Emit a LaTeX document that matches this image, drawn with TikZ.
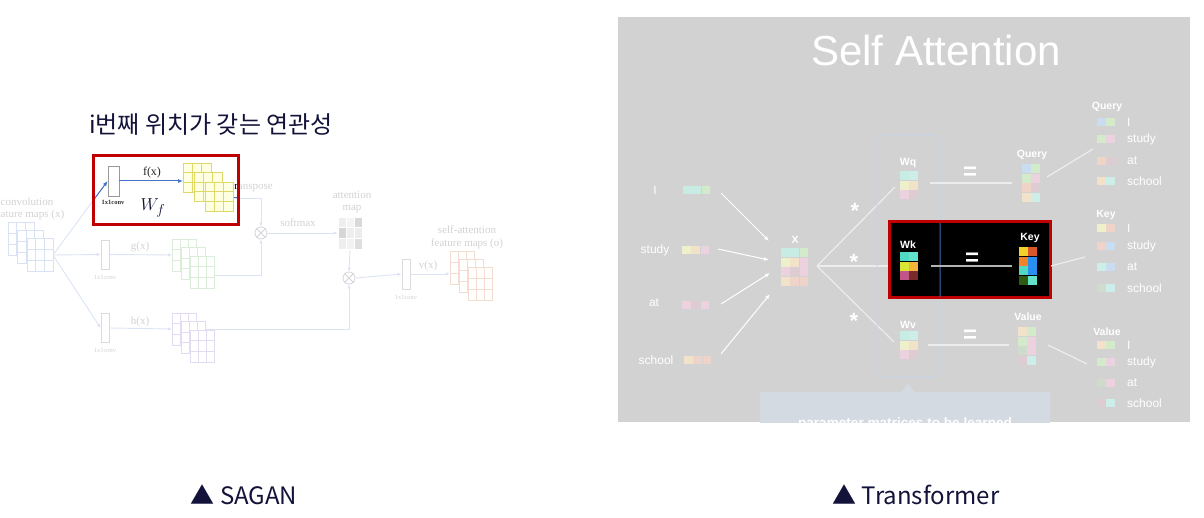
\documentclass[tikz,border=0pt]{standalone}
\usepackage{fontspec}
\setmainfont{Liberation Serif}
\newfontfamily\hfont{Liberation Sans}
\newfontfamily\krfont{Noto Sans CJK KR}
\usepackage{xcolor}
\definecolor{navy}{HTML}{12123A}
\definecolor{hlred}{HTML}{C00000}
\definecolor{fblue}{HTML}{4472C4}
\definecolor{sagLine}{HTML}{DCE3F4}
\definecolor{sagText}{HTML}{D2D2D2}
\definecolor{sagBox}{HTML}{DADADA}
\definecolor{sagCirc}{HTML}{D4D4DA}
\definecolor{xEdge}{HTML}{D9E1F5}
\definecolor{gEdge}{HTML}{D9EDD9}
\definecolor{hEdge}{HTML}{E2DBF2}
\definecolor{oEdge}{HTML}{F5DCD0}
\definecolor{fEdge}{HTML}{E0D868}
\definecolor{fFill}{HTML}{FFFFE2}
\definecolor{panelgray}{HTML}{D2D2D2}
\definecolor{callout}{HTML}{D4DAE2}
\definecolor{wframe}{HTML}{C8D5E6}
\definecolor{tline}{HTML}{EDEDED}
% faded token colours
\definecolor{pCyan}{HTML}{C6ECE4}
\definecolor{pAqua}{HTML}{CDEEE8}
\definecolor{pGreen}{HTML}{D3EBCB}
\definecolor{pYellow}{HTML}{EEF0CC}
\definecolor{pPeach}{HTML}{F2E2CA}
\definecolor{pPink}{HTML}{ECD2DE}
\definecolor{pMauve}{HTML}{DDCCD2}
\definecolor{pSalmon}{HTML}{EFD3C9}
\definecolor{pBlue}{HTML}{CADDF0}
\definecolor{pSage}{HTML}{CFDCCB}
% vivid colours (highlighted key)
\definecolor{vTeal}{HTML}{4FD9C4}
\definecolor{vAqua}{HTML}{62E3C9}
\definecolor{vLime}{HTML}{D9E634}
\definecolor{vAmber}{HTML}{F5B53A}
\definecolor{vMagenta}{HTML}{C25588}
\definecolor{vMaroon}{HTML}{7A2A2A}
\definecolor{vYellow}{HTML}{F5D02A}
\definecolor{vRust}{HTML}{D9572A}
\definecolor{vOrange}{HTML}{F0822A}
\definecolor{vBlue}{HTML}{2A90F0}
\definecolor{vForest}{HTML}{2E5A12}
\definecolor{vFrame}{HTML}{3A6EA8}
\usetikzlibrary{arrows.meta, positioning, calc}

% stack of three feature maps: x, y, w, h, dx, dy, edge, fill
\newcommand{\fmaps}[8]{%
  \foreach \k in {0,1,2}{
    \pgfmathsetmacro{\fx}{#1+\k*#5}
    \pgfmathsetmacro{\fy}{#2+\k*#6}
    \filldraw[draw=#7, fill=#8, line width=0.8] (\fx,\fy) rectangle ++(#3,#4);
    \draw[#7, line width=0.8] (\fx+#3/3,\fy) -- ++(0,#4) (\fx+2*#3/3,\fy) -- ++(0,#4)
      (\fx,\fy+#4/3) -- ++(#3,0) (\fx,\fy+2*#4/3) -- ++(#3,0);
  }}
% coloured matrix: x, y, rows
\newcommand{\tmat}[3]{%
  \foreach \mrow [count=\mr from 0] in {#3}{
    \foreach \mcol [count=\mc from 0] in \mrow
      \fill[\mcol] ({#1+\mc*9.4},{#2+\mr*9.7}) rectangle ++(8.6,8.9);
  }}
% coloured row vector: x, y, colours
\newcommand{\tvec}[3]{%
  \foreach \mcol [count=\mc from 0] in {#3}
    \fill[\mcol] ({#1+\mc*9.4},#2) rectangle ++(8.6,8);}

\begin{document}
\begin{tikzpicture}[x=1pt, y=-1pt,
  sagtxt/.style={font=\fontsize{11}{12}\selectfont, text=sagText, inner sep=0},
  convlbl/.style={font=\fontsize{6.5}{7}\selectfont, text=sagText, inner sep=0},
  convbox/.style={draw=sagBox, fill=white, line width=0.8, minimum width=8, minimum height=29, inner sep=0},
  sagpath/.style={draw=sagLine, line width=0.9},
  sagarrow/.style={sagpath, -{Latex[length=4,width=3.5]}},
  bluearrow/.style={draw=fblue, line width=1, -{Latex[length=5,width=4]}},
  otimes/.style={circle, draw=sagCirc, line width=0.8, minimum size=12, inner sep=0},
  tok/.style={font=\hfont\fontsize{12}{13}\selectfont, text=white, inner sep=0},
  mlbl/.style={font=\hfont\bfseries\fontsize{10.5}{12}\selectfont, text=white, inner sep=0},
  eqsign/.style={font=\hfont\bfseries\fontsize{24}{24}\selectfont, text=white, inner sep=0, anchor=base},
  starsign/.style={font=\hfont\bfseries\fontsize{22}{22}\selectfont, text=white, inner sep=0, anchor=base},
  wline/.style={draw=tline, line width=1.2},
  tarrow/.style={draw=white, line width=1, -{Latex[length=5,width=4]}},
  caption/.style={font=\krfont\fontsize{24}{26}\selectfont, text=navy, inner sep=0}]

\useasboundingbox (0,0) rectangle (1204,518);

% === SAGAN (left) ===
\node[font=\krfont\fontsize{24}{26}\selectfont, text=navy, anchor=west, inner sep=0] (ktitle) at (89,125) {i번째 위치가 갖는 연관성};

\node[sagtxt, anchor=west] (convA) at (0.5,202) {convolution};
\node[sagtxt, anchor=west] (convB) at (0.5,215) {ature maps (x)};

% conv boxes and circles
\node[convbox, minimum width=11, minimum height=30, draw=gray] (fconv) at (113.5,181) {};
\node[convbox] (gconv) at (105,254.5) {};
\node[convbox] (hconv) at (105,328) {};
\node[convbox, minimum height=30] (vconv) at (406,274) {};
\node[otimes] (ot1) at (261,233) {};
\node[otimes] (ot2) at (349,278) {};
\draw[sagCirc, line width=0.8] (ot1.north west) -- (ot1.south east) (ot1.north east) -- (ot1.south west);
\draw[sagCirc, line width=0.8] (ot2.north west) -- (ot2.south east) (ot2.north east) -- (ot2.south west);
\node[draw=sagBox, line width=0.6, minimum width=24, minimum height=32, inner sep=0] (amap) at (350,233) {};

\coordinate (xfan) at (53,255);
\coordinate (fin) at (183,181);
\coordinate (fout) at (233,198);
\coordinate (gin) at (172,255);
\coordinate (gout) at (214,275);
\coordinate (hin) at (172,329);
\coordinate (hout) at (205,329);
\coordinate (oin) at (450,274);

% connectors
\draw[sagarrow] (xfan) -- (fconv.west);
\draw[sagarrow] (xfan) -- (gconv.west);
\draw[sagarrow] (xfan) -- (hconv.west);
\draw[sagarrow] (gconv.east) -- (gin);
\draw[sagarrow] (hconv.east) -- (hin);
\draw[sagarrow] (fout) -| (ot1.north);
\draw[sagarrow] (gout) -| (ot1.south);
\draw[sagarrow] (ot1.east) -- (amap.west);
\draw[sagarrow] (amap.south) -- (ot2.north);
\draw[sagarrow] (hout) -| (ot2.south);
\draw[sagarrow] (ot2.east) -- (vconv.west);
\draw[sagarrow] (vconv.east) -- (oin);

% attention map cells
\foreach \ac [count=\ai from 0] in {EEEEEE,F4F4F4,D9D9D9,D6D6D6,EEEEEE,ECECEC,EEEEEE,F2F2F2,DEDEDE}{
  \pgfmathtruncatemacro{\acol}{mod(\ai,3)}
  \pgfmathtruncatemacro{\arow}{div(\ai,3)}
  \definecolor{acell}{HTML}{\ac}
  \filldraw[fill=acell, draw=white, line width=0.5] ({338+\acol*8},{217+\arow*32/3}) rectangle ++(8,32/3);
}

% feature maps
\fmaps{8}{222}{26}{33}{9.5}{8}{xEdge}{white}
\fmaps{172}{239}{24}{32}{9}{8.5}{gEdge}{white}
\fmaps{172}{313}{24}{32}{9}{8.5}{hEdge}{white}
\fmaps{450}{251}{24}{33}{9}{8}{oEdge}{white}

% labels
\node[sagtxt] (glbl) at (140,247) {g(x)};
\node[sagtxt] (hlbl) at (140,322) {h(x)};
\node[sagtxt] (vlbl) at (428,266) {v(x)};
\node[sagtxt] (smax) at (298,223) {softmax};
\node[sagtxt] (att1) at (352,195) {attention};
\node[sagtxt] (att2) at (352,209) {map};
\node[sagtxt] (sa1) at (467,230) {self-attention};
\node[sagtxt] (sa2) at (467,244) {feature maps (o)};
\node[convlbl] (gcl) at (105,277) {1x1conv};
\node[convlbl] (hcl) at (105,350) {1x1conv};
\node[convlbl] (vcl) at (406,297) {1x1conv};
\node[sagtxt, anchor=west] (tp) at (231,188) {transpose};

% highlighted f(x) branch
\begin{scope}
\clip (93,155) rectangle (238,225);
\draw[bluearrow] (xfan) -- (fconv.west);
\draw[fblue, line width=1] (fout) -| (ot1.north);
\node[sagtxt, anchor=west, text=black] (tpdark) at (231,188) {transpose};
\end{scope}
\node[convbox, minimum width=11, minimum height=30, draw=gray!80] (fconvtop) at (113.5,181) {};
\draw[bluearrow] (fconvtop.east) -- (fin);
\fmaps{183}{163}{28}{29}{11}{9.5}{fEdge}{fFill}
\node[sagtxt, text=black!85, font=\fontsize{12}{13}\selectfont] (flbl) at (152,173) {f(x)};
\node[convlbl, text=black!80, font=\fontsize{6.5}{7}\selectfont\bfseries] (fcl) at (113,202) {1x1conv};
\node[text=navy, inner sep=0, font=\fontsize{19}{20}\selectfont] (wf) at (153,208) {$W_f$};
\draw[hlred, line width=3] (93,156) rectangle (238,225);

% === Transformer (right) ===
\fill[panelgray] (618,17) rectangle (1190,422);
\begin{scope}
\clip (618,17) rectangle (1190,422);
\node[font=\hfont\fontsize{42}{44}\selectfont, text=white, inner sep=0] (satitle) at (936,50) {Self Attention};

% input tokens
\node[tok] (tI) at (655,190) {I};
\node[tok] (tStudy) at (655,250) {study};
\node[tok] (tAt) at (654,303) {at};
\node[tok] (tSchool) at (656,360) {school};
\tvec{683}{186}{pCyan,pCyan,pGreen}
\tvec{682}{246}{pYellow,pPeach,pPink}
\tvec{682}{301}{pPink,pMauve,pPink}
\tvec{684}{356}{pPeach,pSalmon,pSalmon}
\coordinate (vI) at (721,193);
\coordinate (vStudy) at (718,249);
\coordinate (vAt) at (721,304);
\coordinate (vSchool) at (721,354);
\coordinate (xin1) at (769,241);
\coordinate (xin2) at (769,260);
\coordinate (xin3) at (770,273);
\coordinate (xin4) at (770,294);
\draw[tarrow] (vI) -- (xin1);
\draw[tarrow] (vStudy) -- (xin2);
\draw[tarrow] (vAt) -- (xin3);
\draw[tarrow] (vSchool) -- (xin4);

% X matrix
\node[mlbl] (xlbl) at (795,240) {X};
\tmat{781}{248}{{pCyan,pCyan,pGreen},{pYellow,pPeach,pPink},{pPink,pMauve,pPink},{pPeach,pSalmon,pSalmon}}
\coordinate (xout) at (817,266);
\coordinate (wqin) at (895,187);
\coordinate (wkin) at (890,266);
\coordinate (wvin) at (894,342);
\draw[wline] (xout) -- (wqin);
\draw[wline] (xout) -- (wkin);
\draw[wline] (xout) -- (wvin);
\node[starsign] (st1) at (855,219) {*};
\node[starsign] (st2) at (854,270) {*};
\node[starsign] (st3) at (854,329) {*};

% parameter frame and callout
\draw[wframe, line width=1, rounded corners=8] (877,135) rectangle (940,377);
\fill[callout] (760,392) rectangle (1050,440);
\fill[callout] (901,392.5) -- (908,383.5) -- (915,392.5) -- cycle;
\node[font=\hfont\bfseries\fontsize{13.6}{15}\selectfont, text=white, anchor=base, inner sep=0] (callt) at (905,427) {parameter matrices to be learned};

% query row
\node[mlbl] (wqlbl) at (908,163) {Wq};
\tmat{900}{171}{{pCyan,pAqua},{pYellow,pPeach},{pPink,pMauve}}
\node[eqsign] (eq1) at (970,180) {=};
\coordinate (wqout) at (930,183);
\coordinate (qin) at (1012,183);
\draw[wline] (wqout) -- (qin);
\node[mlbl] (qlbl) at (1032,155) {Query};
\tmat{1022}{164}{{pBlue,pGreen},{pGreen,pPink},{pSalmon,pMauve},{pPeach,pAqua}}
\coordinate (qout) at (1047,177);
\coordinate (qlist) at (1093,149);
\draw[wline] (qout) -- (qlist);

% value row
\node[mlbl] (wvlbl) at (908,325) {Wv};
\tmat{900}{331}{{pCyan,pAqua},{pYellow,pPeach},{pPink,pMauve}}
\node[eqsign] (eq3) at (970,342) {=};
\coordinate (wvout) at (928,345);
\coordinate (vin) at (1009,345);
\draw[wline] (wvout) -- (vin);
\node[mlbl] (vallbl) at (1028,317) {Value};
\tmat{1018}{327}{{pPeach,pGreen},{pGreen,pPink},{pSage,pPink},{pMauve,pAqua}}
\coordinate (vout) at (1048,345);
\coordinate (vlist) at (1087,364);
\draw[wline] (vout) -- (vlist);

% key row (highlighted)
\filldraw[fill=black, draw=hlred, line width=3] (889,222) rectangle (1050,298);
\begin{scope}
\clip (890.5,223.5) rectangle (1048.5,296.5);
\draw[vFrame, line width=1, rounded corners=8] (877,135) rectangle (940,377);
\end{scope}
\node[mlbl] (wklbl) at (908,245) {Wk};
\tmat{900}{252}{{vTeal,vAqua},{vLime,vAmber},{vMagenta,vMaroon}}
\node[eqsign] (eq2) at (972,266) {=};
\coordinate (wkout) at (931,266);
\coordinate (kin) at (1012,266);
\draw[line width=1.2, gray!60] (wkout) -- (kin);
\node[mlbl] (klbl) at (1030,238) {Key};
\tmat{1019}{247}{{vYellow,vRust},{vOrange,vBlue},{vTeal,vBlue},{vForest,vAqua}}
\coordinate (kout) at (1051,266);
\coordinate (klist) at (1085,257);
\draw[wline] (kout) -- (klist);

% output lists
\node[mlbl] (qhead) at (1107,107) {Query};
\foreach \wrd/\wy/\ca/\cb in {I/122/pBlue/pGreen, study/139/pGreen/pPink, at/161/pSalmon/pMauve, school/181/pPeach/pAqua}{
  \tvec{1097}{\wy-4}{\ca,\cb}
  \node[tok, anchor=west] (q-\wrd) at (1127,\wy) {\wrd};
}
\node[mlbl] (khead) at (1106,215) {Key};
\foreach \wrd/\wy/\ca/\cb in {I/228/pYellow/pSalmon, study/246/pSalmon/pBlue, at/267/pAqua/pBlue, school/288/pSage/pAqua}{
  \tvec{1097}{\wy-4}{\ca,\cb}
  \node[tok, anchor=west] (k-\wrd) at (1127,\wy) {\wrd};
}
\node[mlbl] (vhead) at (1107,332) {Value};
\foreach \wrd/\wy/\ca/\cb in {I/345/pPeach/pGreen, study/362/pGreen/pPink, at/383/pSage/pPink, school/403/pMauve/pAqua}{
  \tvec{1097}{\wy-4}{\ca,\cb}
  \node[tok, anchor=west] (v-\wrd) at (1127,\wy) {\wrd};
}
\end{scope}

% captions
\node[caption] (capS) at (244,495) {▲ SAGAN};
\node[caption] (capT) at (916,495) {▲ Transformer};

\end{tikzpicture}
\end{document}
